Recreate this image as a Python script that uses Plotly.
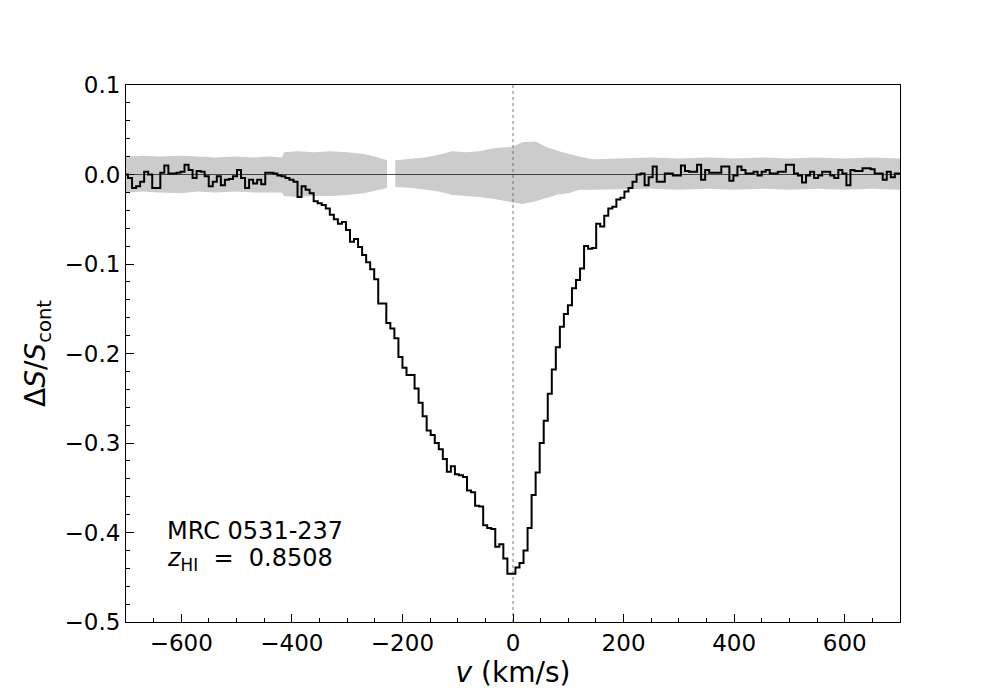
import numpy as np
import plotly.graph_objects as go

# spectrum: one value per channel, channel width ~7.3 km/s starting at -700 km/s
v_start = -700.0
chan_width = 7.3
flux = [
    0.000, -0.004, -0.015, -0.013, -0.008, 0.003, 0.000, -0.015, -0.015, 0.002,
    0.010, 0.001, 0.001, 0.002, 0.003, 0.011, 0.005, -0.004, 0.004, 0.003,
    -0.002, -0.013, -0.008, -0.002, -0.012, -0.006, -0.005, -0.002, 0.005, -0.004,
    -0.015, -0.006, -0.010, -0.006, -0.011, 0.002, 0.002, 0.001, -0.001, -0.002,
    -0.004, -0.006, -0.008, -0.025, -0.013, -0.017, -0.021, -0.030, -0.032, -0.034,
    -0.038, -0.045, -0.050, -0.055, -0.053, -0.062, -0.075, -0.072, -0.081, -0.090,
    -0.098, -0.106, -0.117, -0.144, -0.144, -0.166, -0.172, -0.183, -0.204, -0.216,
    -0.224, -0.224, -0.239, -0.255, -0.270, -0.286, -0.291, -0.300, -0.307, -0.318,
    -0.332, -0.326, -0.335, -0.336, -0.338, -0.353, -0.355, -0.370, -0.371, -0.392,
    -0.395, -0.396, -0.416, -0.413, -0.429, -0.446, -0.446, -0.439, -0.434, -0.420,
    -0.395, -0.358, -0.333, -0.300, -0.275, -0.245, -0.218, -0.193, -0.170, -0.156,
    -0.146, -0.127, -0.118, -0.105, -0.080, -0.083, -0.082, -0.055, -0.058, -0.046,
    -0.038, -0.036, -0.028, -0.026, -0.019, -0.015, -0.008, 0.000, 0.001, -0.012,
    -0.003, 0.009, -0.008, -0.008, 0.001, 0.001, -0.001, -0.001, 0.010, 0.004,
    0.003, 0.003, 0.011, -0.006, 0.005, 0.002, 0.002, 0.002, 0.009, 0.009,
    -0.007, -0.001, 0.009, 0.005, 0.001, 0.001, 0.003, -0.001, 0.003, 0.005,
    0.001, 0.001, 0.003, 0.003, 0.011, 0.011, 0.001, -0.001, -0.009, -0.001,
    0.003, -0.004, -0.001, 0.003, 0.003, -0.001, -0.004, 0.005, 0.001, -0.012,
    0.005, 0.004, 0.004, 0.007, 0.007, 0.006, 0.001, 0.001, -0.006, 0.003,
    -0.003, 0.001, 0.001,
]

# noise band, left part (up to the flagged gap)
band1_v = [-700, -670, -640, -600, -570, -540, -500, -470, -440, -418,
           -414, -390, -360, -330, -300, -270, -250, -228]
band1_hi = [0.020, 0.021, 0.020, 0.021, 0.020, 0.019, 0.020, 0.019, 0.020, 0.019,
            0.025, 0.026, 0.025, 0.026, 0.025, 0.023, 0.020, 0.016]
band1_lo = [-0.020, -0.019, -0.020, -0.021, -0.019, -0.020, -0.019, -0.020, -0.020, -0.020,
            -0.024, -0.025, -0.024, -0.024, -0.023, -0.021, -0.018, -0.015]

# noise band, right part (after the gap)
band2_v = [-213, -182, -160, -134, -110, -85, -61, -37, -25, -1, 17, 41, 59, 83,
           100, 120, 144, 192, 250, 300, 350, 400, 450, 500, 550, 600, 650, 700]
band2_hi = [0.016, 0.018, 0.019, 0.022, 0.026, 0.025, 0.026, 0.029, 0.030, 0.031,
            0.036, 0.037, 0.031, 0.026, 0.023, 0.020, 0.017, 0.018, 0.019, 0.018,
            0.019, 0.018, 0.019, 0.018, 0.019, 0.018, 0.019, 0.018]
band2_lo = [-0.014, -0.015, -0.017, -0.019, -0.023, -0.024, -0.025, -0.027, -0.028, -0.031,
            -0.033, -0.030, -0.027, -0.022, -0.021, -0.017, -0.017, -0.017, -0.016, -0.017,
            -0.016, -0.017, -0.016, -0.017, -0.016, -0.017, -0.016, -0.017]

x_ticks = [-600, -400, -200, 0, 200, 400, 600]
x_ticktext = ["\u2212600", "\u2212400", "\u2212200", "0", "200", "400", "600"]
y_ticks = [-0.5, -0.4, -0.3, -0.2, -0.1, 0.0, 0.1]
y_ticktext = ["\u22120.5", "\u22120.4", "\u22120.3", "\u22120.2", "\u22120.1", "0.0", "0.1"]

source_name = "MRC 0531-237"
redshift_label = "<i>z</i><sub>HI</sub>\u00a0\u00a0=\u00a0\u00a00.8508"

FONT = "DejaVu Sans, sans-serif"
BAND_COLOR = "#cccccc"

velocity = v_start + chan_width * np.arange(len(flux))

fig = go.Figure()

for bv, bhi, blo in [(band1_v, band1_hi, band1_lo), (band2_v, band2_hi, band2_lo)]:
    fig.add_trace(
        go.Scatter(
            x=bv + bv[::-1],
            y=bhi + blo[::-1],
            fill="toself",
            fillcolor=BAND_COLOR,
            line={"width": 0},
            mode="lines",
            hoverinfo="skip",
            showlegend=False,
        )
    )

# zero reference lines
fig.add_trace(
    go.Scatter(
        x=[-700, 700], y=[0, 0], mode="lines",
        line={"color": "#222222", "width": 0.8}, showlegend=False,
    )
)
fig.add_trace(
    go.Scatter(
        x=[0, 0], y=[-0.5, 0.1], mode="lines",
        line={"color": "#555555", "width": 0.8, "dash": "dot"}, showlegend=False,
    )
)

fig.add_trace(
    go.Scatter(
        x=velocity,
        y=flux,
        mode="lines",
        line={"color": "black", "width": 2, "shape": "hvh"},
        showlegend=False,
    )
)

fig.add_annotation(
    x=-630, y=-0.398, xref="x", yref="y", text=source_name,
    showarrow=False, xanchor="left", yanchor="middle",
    font={"family": FONT, "size": 24, "color": "black"},
)
fig.add_annotation(
    x=-630, y=-0.430, xref="x", yref="y", text=redshift_label,
    showarrow=False, xanchor="left", yanchor="middle",
    font={"family": FONT, "size": 24, "color": "black"},
)

axis_common = {
    "showgrid": False,
    "zeroline": False,
    "showline": True,
    "linecolor": "black",
    "linewidth": 1,
    "mirror": True,
    "ticks": "inside",
    "ticklen": 8,
    "tickwidth": 1,
    "tickcolor": "black",
    "tickfont": {"family": FONT, "size": 23, "color": "black"},
}

fig.update_xaxes(
    range=[-700, 700],
    tickvals=x_ticks,
    ticktext=x_ticktext,
    minor={"dtick": 50, "tick0": 0, "ticks": "inside", "ticklen": 4, "tickcolor": "black"},
    title={"text": "<i>v</i> (km/s)", "font": {"family": FONT, "size": 28, "color": "black"},
           "standoff": 6},
    **axis_common,
)
fig.update_yaxes(
    range=[-0.5, 0.1],
    tickvals=y_ticks,
    ticktext=y_ticktext,
    minor={"dtick": 0.02, "tick0": 0, "ticks": "inside", "ticklen": 4, "tickcolor": "black"},
    title={"text": "\u0394<i>S</i>/<i>S</i><sub>cont</sub>",
           "font": {"family": FONT, "size": 28, "color": "black"}, "standoff": 10},
    **axis_common,
)

# page body adds ~8px offset, margins compensate so the frame sits at 126-900 x 85-622
fig.update_layout(
    width=1000,
    height=700,
    plot_bgcolor="white",
    paper_bgcolor="white",
    margin={"l": 118, "r": 108, "t": 77, "b": 86, "autoexpand": False},
    font={"family": FONT},
)

fig.write_html("out.html")
